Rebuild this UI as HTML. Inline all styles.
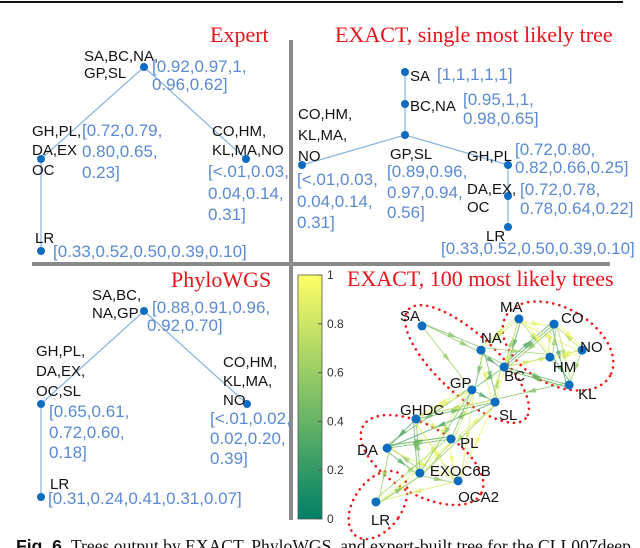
<!DOCTYPE html>
<html><head><meta charset="utf-8">
<style>
html,body{margin:0;padding:0;background:#fff;}
svg{display:block;}
.lb{font-family:"Liberation Sans",sans-serif;font-size:15px;fill:#111;}
.bl{font-family:"Liberation Sans",sans-serif;font-size:17px;fill:#5b8ad4;}
.tt{font-family:"Liberation Serif",serif;font-size:22px;fill:#e8141b;}
.nd{fill:#0b6cc0;}
.ln{stroke:#8db6e2;stroke-width:1.3;fill:none;}
.tick{font-family:"Liberation Sans",sans-serif;font-size:12px;fill:#333;}
.gl{font-family:"Liberation Sans",sans-serif;font-size:15px;fill:#111;}
.el{fill:none;stroke:#f01818;stroke-width:2.6;stroke-linecap:round;stroke-dasharray:0.1 6.2;}
</style></head>
<body>
<svg id="fig" width="640" height="548" viewBox="0 0 640 548" xmlns="http://www.w3.org/2000/svg">
<defs>
<linearGradient id="summer" x1="0" y1="1" x2="0" y2="0">
<stop offset="0" stop-color="#008066"/><stop offset="1" stop-color="#ffff66"/>
</linearGradient>
</defs>
<line x1="0" y1="2" x2="623" y2="2" stroke="#111" stroke-width="2"/>
<rect x="289" y="40" width="4" height="480" fill="#8a8a8a"/>
<rect x="32" y="262" width="578" height="4" fill="#8a8a8a"/>

<g>
<text class="tt" x="210" y="42">Expert</text>
<line class="ln" x1="144" y1="67" x2="41" y2="159"/><line class="ln" x1="144" y1="67" x2="246" y2="159"/><line class="ln" x1="41" y1="159" x2="41" y2="251"/>
<circle class="nd" cx="144" cy="67" r="4"/><circle class="nd" cx="41" cy="159" r="4"/><circle class="nd" cx="246" cy="159" r="4"/><circle class="nd" cx="41" cy="251" r="4"/>
<text class="lb" x="84" y="61">SA,BC,NA,</text><text class="lb" x="84" y="78">GP,SL</text>
<text class="bl" x="152" y="72">[0.92,0.97,1,</text><text class="bl" x="152" y="90">0.96,0.62]</text>
<text class="lb" x="32" y="136">GH,PL,</text><text class="lb" x="32" y="155">DA,EX</text><text class="lb" x="32" y="175">OC</text>
<text class="bl" x="82" y="136">[0.72,0.79,</text><text class="bl" x="82" y="157">0.80,0.65,</text><text class="bl" x="82" y="178">0.23]</text>
<text class="lb" x="212" y="136">CO,HM,</text><text class="lb" x="212" y="155">KL,MA,NO</text>
<text class="bl" x="208" y="177">[&lt;.01,0.03,</text><text class="bl" x="208" y="199">0.04,0.14,</text><text class="bl" x="208" y="220">0.31]</text>
<text class="lb" x="35" y="243">LR</text>
<text class="bl" x="53" y="257">[0.33,0.52,0.50,0.39,0.10]</text>
</g>

<g>
<text class="tt" x="335" y="42">EXACT, single most likely tree</text>
<line class="ln" x1="405" y1="72" x2="405" y2="135"/><line class="ln" x1="405" y1="135" x2="302" y2="165"/><line class="ln" x1="405" y1="135" x2="508" y2="165"/><line class="ln" x1="508" y1="165" x2="508" y2="227"/>
<circle class="nd" cx="405" cy="72" r="4"/><circle class="nd" cx="405" cy="104" r="4"/><circle class="nd" cx="405" cy="135" r="4"/><circle class="nd" cx="302" cy="165" r="4"/><circle class="nd" cx="508" cy="165" r="4"/><circle class="nd" cx="508" cy="196" r="4"/><circle class="nd" cx="508" cy="227" r="4"/>
<text class="lb" x="410" y="81">SA</text><text class="bl" x="437" y="80">[1,1,1,1,1]</text>
<text class="lb" x="410" y="111">BC,NA</text><text class="bl" x="463" y="105">[0.95,1,1,</text><text class="bl" x="463" y="124">0.98,0.65]</text>
<text class="lb" x="298" y="119">CO,HM,</text><text class="lb" x="298" y="140">KL,MA,</text><text class="lb" x="298" y="161">NO</text>
<text class="bl" x="297" y="185">[&lt;.01,0.03,</text><text class="bl" x="297" y="207">0.04,0.14,</text><text class="bl" x="297" y="228">0.31]</text>
<text class="lb" x="390" y="159">GP,SL</text>
<text class="bl" x="387" y="177">[0.89,0.96,</text><text class="bl" x="387" y="198">0.97,0.94,</text><text class="bl" x="387" y="218">0.56]</text>
<text class="lb" x="467" y="161">GH,PL</text><text class="bl" x="515" y="155">[0.72,0.80,</text><text class="bl" x="515" y="173">0.82,0.66,0.25]</text>
<text class="lb" x="467" y="194">DA,EX,</text><text class="lb" x="467" y="212">OC</text>
<text class="bl" x="520" y="195">[0.72,0.78,</text><text class="bl" x="520" y="214">0.78,0.64,0.22]</text>
<text class="lb" x="486" y="241">LR</text>
<text class="bl" x="441" y="254">[0.33,0.52,0.50,0.39,0.10]</text>
</g>

<g>
<text class="tt" x="171" y="287">PhyloWGS</text>
<line class="ln" x1="144" y1="311" x2="41" y2="404"/><line class="ln" x1="144" y1="311" x2="247" y2="404"/><line class="ln" x1="41" y1="404" x2="41" y2="497"/>
<circle class="nd" cx="144" cy="311" r="4"/><circle class="nd" cx="41" cy="404" r="4"/><circle class="nd" cx="247" cy="404" r="4"/><circle class="nd" cx="41" cy="497" r="4"/>
<text class="lb" x="92" y="300">SA,BC,</text><text class="lb" x="92" y="318">NA,GP</text>
<text class="bl" x="152" y="313">[0.88,0.91,0.96,</text><text class="bl" x="147" y="331">0.92,0.70]</text>
<text class="lb" x="36" y="356">GH,PL,</text><text class="lb" x="36" y="376">DA,EX,</text><text class="lb" x="36" y="396">OC,SL</text>
<text class="bl" x="49" y="417">[0.65,0.61,</text><text class="bl" x="49" y="438">0.72,0.60,</text><text class="bl" x="49" y="458">0.18]</text>
<text class="lb" x="223" y="367">CO,HM,</text><text class="lb" x="223" y="386">KL,MA,</text><text class="lb" x="223" y="405">NO</text>
<text class="bl" x="210" y="424">[&lt;.01,0.02,</text><text class="bl" x="210" y="444">0.02,0.20,</text><text class="bl" x="210" y="464">0.39]</text>
<text class="lb" x="50" y="489">LR</text>
<text class="bl" x="48" y="504">[0.31,0.24,0.41,0.31,0.07]</text>
</g>

<g>
<text class="tt" x="347" y="286">EXACT, 100 most likely trees</text>
<rect x="298" y="275" width="24" height="244" fill="url(#summer)" stroke="#555" stroke-width="0.8"/>
<g id="cbticks"></g>
<g>
<ellipse class="el" cx="467" cy="364" rx="80" ry="30" transform="rotate(43 467 364)"/>
<ellipse class="el" cx="558" cy="346" rx="60" ry="38" transform="rotate(30 558 346)"/>
<ellipse class="el" cx="422" cy="460" rx="68" ry="34" transform="rotate(30 422 460)"/>
<ellipse class="el" cx="378" cy="505" rx="24" ry="38" transform="rotate(35 378 505)"/>
</g>
<g id="edges"></g>
<g id="nodes"></g>
</g>

<text x="16" y="552" font-family="Liberation Serif,serif" font-size="17.6" fill="#111"><tspan font-family="Liberation Sans,sans-serif" font-weight="bold">Fig. 6.</tspan> Trees output by EXACT, PhyloWGS, and expert-built tree for the CLL007deep</text>
</svg>
<script>
const cbTicks = [0, 0.2, 0.4, 0.6, 0.8, 1];
const nodeNames = ["SA","MA","CO","NA","NO","HM","BC","GP","KL","SL","GHDC","PL","DA","EXOC6B","OCA2","LR"];
const nodeX = [29.6, 66.9, 80.4, 52.3, 91.2, 78.8, 61.2, 48.8, 86.2, 57.7, 27.3, 40.8, 16.2, 28.8, 43.5, 11.9];
const nodeY = [75.8, 78.5, 76.5, 66.5, 66.5, 63.8, 60.0, 51.2, 53.1, 46.5, 40.0, 32.3, 28.8, 19.2, 16.2, 8.1];
const labelDX = [-22,-19,7,0,-2,3,0,-22,9,4,-16,9,-30,10,0,-5];
const labelDY = [-5,-7,-1,-7,2,15,14,-2,14,18,-4,9,7,3,21,23];
const edgeFrom = [0,0,3,3,3,1,1,1,2,2,2,5,5,4,8,8,6,6,6,6,7,7,7,7,9,9,9,9,10,10,10,10,11,11,11,12,12,12,13,13,14,15,15,1,2,3,6,7,9,10,11,0,4,5,12,13,1,2,4,5,8,6,3,7,9,10,11,12,13,14,7,9,3,6,1,2];
const edgeTo   = [3,7,6,7,1,2,6,5,5,4,6,4,8,8,9,6,7,9,2,1,10,11,9,12,11,14,10,6,12,13,11,7,14,13,7,13,15,14,14,15,15,13,11,9,8,9,5,13,13,9,12,6,2,1,11,10,4,8,5,2,6,4,9,14,12,14,15,11,12,10,13,10,5,8,3,6];
const edgeW    = [0.5,0.6,0.3,0.45,0.8,0.9,0.35,0.7,0.85,0.95,0.4,0.9,0.3,0.6,0.5,0.75,0.4,0.85,0.3,0.55,0.9,0.8,0.35,0.45,0.9,0.95,0.5,0.7,0.3,0.4,0.85,0.9,0.95,0.7,0.5,0.35,0.6,0.9,0.55,0.95,0.85,0.5,0.65,0.9,0.3,0.45,0.8,0.9,0.6,0.4,0.85,0.55,0.75,0.95,0.35,0.5,0.9,0.7,0.95,0.6,0.4,0.8,0.9,0.85,0.3,0.75,0.9,0.45,0.6,0.95,0.5,0.8,0.65,0.4,0.85,0.55];
const NS = "http://www.w3.org/2000/svg";
function cbY(v){ return 519 - v * 244; }
function gx(u){ return 345 + u * 2.6; }
function gy(u){ return 523 - u * 2.6; }
function colorFor(w){ const r=Math.round(255*w), g=Math.round(128+127*w), b=102; return `rgb(${r},${g},${b})`; }
const cbG = document.getElementById('cbticks');
cbTicks.forEach(v=>{
  const t=document.createElementNS(NS,'text');
  t.setAttribute('x',327); t.setAttribute('y',cbY(v)+4); t.setAttribute('class','tick');
  t.textContent = String(v);
  
  
  cbG.appendChild(t);
  const l=document.createElementNS(NS,'line');
  l.setAttribute('x1',318); l.setAttribute('x2',322); l.setAttribute('y1',cbY(v)); l.setAttribute('y2',cbY(v)); l.setAttribute('stroke','#555');
  
  
  cbG.appendChild(l);
});
const eG=document.getElementById('edges');
edgeFrom.forEach((f,i)=>{
  const t=edgeTo[i];
  const off=(i%3-1)*2.5;
  const x1=gx(nodeX[f]), y1=gy(nodeY[f]), x2=gx(nodeX[t]), y2=gy(nodeY[t]);
  const a=Math.atan2(y2-y1,x2-x1);
  const ox=-Math.sin(a)*off, oy=Math.cos(a)*off;
  const l=document.createElementNS(NS,'line');
  l.setAttribute('x1',x1+ox); l.setAttribute('y1',y1+oy); l.setAttribute('x2',x2+ox); l.setAttribute('y2',y2+oy);
  l.setAttribute('stroke',colorFor(edgeW[i])); l.setAttribute('stroke-width',1); l.setAttribute('opacity',0.75);
  
  
  eG.appendChild(l);
  const mx=(x1+x2)/2+ox, my=(y1+y2)/2+oy, s=5;
  const p=document.createElementNS(NS,'polygon');
  p.setAttribute('points',`${mx+s*Math.cos(a)},${my+s*Math.sin(a)} ${mx+s*Math.cos(a+2.6)},${my+s*Math.sin(a+2.6)} ${mx+s*Math.cos(a-2.6)},${my+s*Math.sin(a-2.6)}`);
  p.setAttribute('fill',colorFor(edgeW[i])); p.setAttribute('opacity',0.75);
  
  
  eG.appendChild(p);
});
const nG=document.getElementById('nodes');
nodeNames.forEach((n,i)=>{
  const c=document.createElementNS(NS,'circle');
  c.setAttribute('cx',gx(nodeX[i])); c.setAttribute('cy',gy(nodeY[i])); c.setAttribute('r',4.5); c.setAttribute('class','nd');
  
  
  nG.appendChild(c);
  const t=document.createElementNS(NS,'text');
  t.setAttribute('x',gx(nodeX[i])+labelDX[i]); t.setAttribute('y',gy(nodeY[i])+labelDY[i]); t.setAttribute('class','gl');
  t.textContent=n;
  
  
  nG.appendChild(t);
});
</script>
</body></html>
